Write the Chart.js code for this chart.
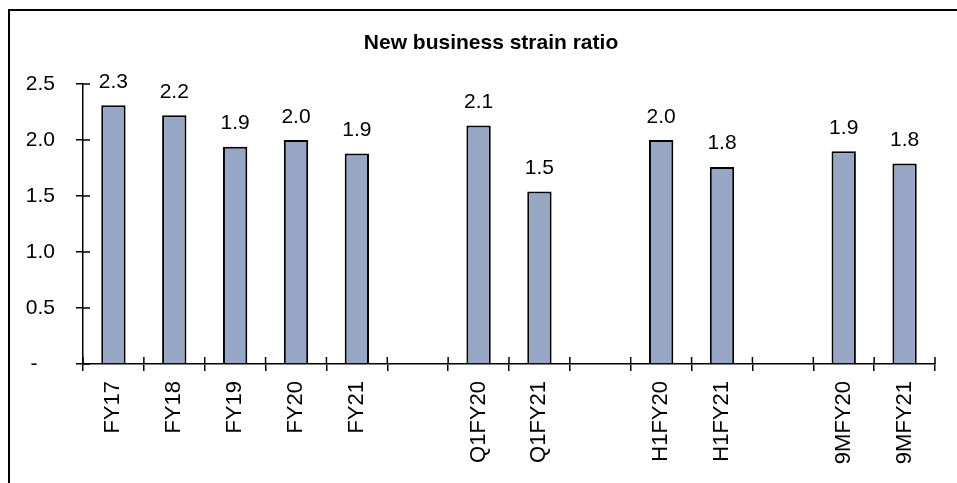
<!DOCTYPE html>
<html>
<head>
<meta charset="utf-8">
<script src="https://cdn.jsdelivr.net/npm/chart.js@4"></script>
<style>
html, body { margin:0; padding:0; background:#fff; overflow:hidden; }
#wrap { position:relative; width:957px; height:483px; }
#frame { position:absolute; left:8px; top:9px; right:-10px; bottom:-10px; border-top:2px solid #000; border-left:2px solid #000; pointer-events:none; }
</style>
</head>
<body>
<div id="wrap"><canvas id="c" width="957" height="483"></canvas><div id="frame"></div></div>
<script>
// data, '' / null are the gaps between groups
const categories = ['FY17', 'FY18', 'FY19', 'FY20', 'FY21', '', 'Q1FY20', 'Q1FY21', '', 'H1FY20', 'H1FY21', '', '9MFY20', '9MFY21']
const strain = [2.31, 2.22, 1.94, 2.0, 1.88, null, 2.13, 1.54, null, 2.0, 1.76, null, 1.90, 1.79]
const yTicks = [0, 0.5, 1.0, 1.5, 2.0, 2.5]
const title = 'New business strain ratio'

Chart.defaults.font.family = '"Liberation Sans", Arial, sans-serif'
Chart.defaults.color = '#000'

// excel style ticks cross the axis: draw the inner half, value labels and the title
const extras = {
	id: 'extras',
	afterDatasetsDraw(chart) {
		const {ctx, chartArea: ca, scales: {x, y}} = chart
		ctx.save()
		ctx.strokeStyle = '#000'
		ctx.lineWidth = 1.5
		ctx.beginPath()
		y.ticks.forEach((_, i) => {
			const p = y.getPixelForTick(i)
			ctx.moveTo(ca.left, p)
			ctx.lineTo(ca.left + 7, p)
		})
		const w = (x.right - x.left) / categories.length
		for (let i = 0; i <= categories.length; i++) {
			const p = x.left + i * w
			ctx.moveTo(p, ca.bottom)
			ctx.lineTo(p, ca.bottom - 7)
		}
		ctx.stroke()

		ctx.fillStyle = '#000'
		ctx.font = '21px "Liberation Sans", Arial, sans-serif'
		ctx.textAlign = 'center'
		ctx.textBaseline = 'alphabetic'
		chart.getDatasetMeta(0).data.forEach((bar, i) => {
			if (strain[i] == null) return
			ctx.fillText(strain[i].toFixed(1), bar.x, bar.y - 17.5)
		})

		ctx.font = 'bold 21px "Liberation Sans", Arial, sans-serif'
		ctx.textBaseline = 'middle'
		ctx.fillText(title, (ca.left + ca.right) / 2 - 18, 43)
		ctx.restore()
	}
}

new Chart(document.getElementById('c'), {
	type: 'bar',
	data: {
		labels: categories,
		datasets: [{
			data: strain,
			backgroundColor: '#97A6C4',
			borderColor: '#000',
			borderWidth: 2,
			borderSkipped: 'bottom',
			barPercentage: 0.4,
			categoryPercentage: 1,
		}]
	},
	options: {
		responsive: false,
		animation: false,
		devicePixelRatio: 1,
		layout: { padding: { left: 0, right: 22, top: 84, bottom: 0 } },
		plugins: {
			legend: { display: false },
			tooltip: { enabled: false },
			title: { display: false }
		},
		scales: {
			x: {
				afterFit: s => { s.height = 119 },
				grid: { drawOnChartArea: false, drawTicks: true, tickLength: 7, color: '#000', lineWidth: 1.5 },
				border: { color: '#000', width: 1.5 },
				ticks: { font: { size: 22 }, color: '#000', minRotation: 90, maxRotation: 90, padding: 10, autoSkip: false }
			},
			y: {
				min: 0,
				max: 2.5,
				afterFit: s => { s.width = 83 },
				afterBuildTicks: s => { s.ticks = yTicks.map(v => ({ value: v })) },
				grid: { drawOnChartArea: false, drawTicks: true, tickLength: 7, color: '#000', lineWidth: 1.5 },
				border: { color: '#000', width: 1.5 },
				ticks: {
					font: { size: 21 },
					color: '#000',
					padding: 21,
					callback: v => v === 0 ? '-   ' : v.toFixed(1)
				}
			}
		}
	},
	plugins: [extras]
})
</script>
</body>
</html>
